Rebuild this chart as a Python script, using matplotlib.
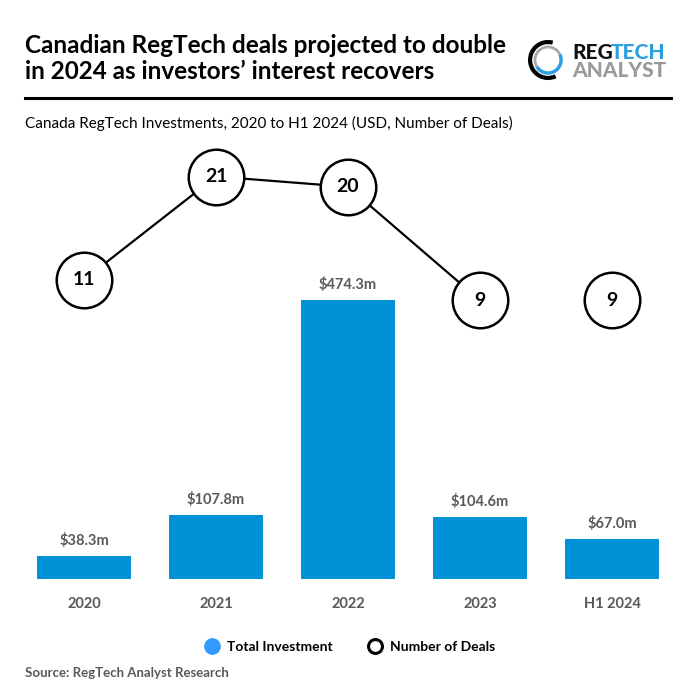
import matplotlib.pyplot as plt
from matplotlib.lines import Line2D
from matplotlib.patches import Arc

plt.rcParams['font.family'] = ['Lato', 'DejaVu Sans']

# data
years = ["2020", "2021", "2022", "2023", "H1 2024"]
investment = [38.3, 107.8, 474.3, 104.6, 67.0]
inv_labels = ["$38.3m", "$107.8m", "$474.3m", "$104.6m", "$67.0m"]
deals = [11, 21, 20, 9, 9]

bar_color = "#0091d6"
grey = "#595959"

fig = plt.figure(figsize=(6.96, 6.96), dpi=100)

# main chart area
ax = fig.add_axes([0.0259, 0.1685, 0.9483, 0.6304])
x = range(len(years))
ax.bar(x, investment, width=0.716, color=bar_color, zorder=2)
for i, (v, lab) in enumerate(zip(investment, inv_labels)):
    ax.annotate(lab, (i, v), xytext=(0, 6), textcoords="offset points",
                ha="center", va="bottom", fontsize=10.5, fontweight="bold", color=grey)
ax.set_xlim(-0.5, 4.5)
ax.set_ylim(0, 746.6)
ax.set_xticks(list(x))
ax.set_xticklabels(years, fontsize=10.5, fontweight="bold", color=grey)
ax.tick_params(axis="x", length=0, pad=13)
ax.set_yticks([])
for s in ax.spines.values():
    s.set_visible(False)

# deals on a second axis
ax2 = ax.twinx()
ax2.set_ylim(-17.97, 24.54)
ax2.plot(list(x)[:4], deals[:4], color="black", lw=1.6, zorder=3)
ax2.plot(list(x), deals, ls="none", marker="o", ms=40, mfc="white",
         mec="black", mew=1.8, zorder=4)
for i, d in enumerate(deals):
    ax2.text(i, d, str(d), ha="center", va="center", fontsize=14,
             fontweight="bold", color="black", zorder=5)
ax2.set_yticks([])
for s in ax2.spines.values():
    s.set_visible(False)

# title block
fig.text(0.036, 0.916, "Canadian RegTech deals projected to double\nin 2024 as investors\u2019 interest recovers",
         ha="left", va="center", fontsize=17.5, fontweight="bold", linespacing=1.2)
fig.add_artist(Line2D([0.036, 0.964], [0.859, 0.859], color="black", lw=2.2))
fig.text(0.036, 0.822, "Canada RegTech Investments, 2020 to H1 2024 (USD, Number of Deals)",
         ha="left", va="center", fontsize=11)

# logo
lax = fig.add_axes([0.7574, 0.8838, 0.06, 0.06])
lax.set_xlim(-1, 1)
lax.set_ylim(-1, 1)
lax.set_aspect("equal")
lax.axis("off")
lax.add_patch(Arc((0, 0), 1.72, 1.72, theta1=75, theta2=295, color="black", lw=3))
lax.add_patch(Arc((0, 0), 1.25, 1.25, theta1=210, theta2=385, color="#2d9fe0", lw=2.5))
lax.add_patch(Arc((0, 0), 1.25, 1.25, theta1=25, theta2=210, color="#a8a8a8", lw=2))
fig.text(0.822, 0.925, "REG", ha="left", va="center", fontsize=15, fontweight="black", color="#111111")
fig.text(0.878, 0.925, "TECH", ha="left", va="center", fontsize=15, fontweight="black", color="#2d9fe0")
fig.text(0.822, 0.898, "ANALYST", ha="left", va="center", fontsize=15, fontweight="black", color="#9a9a9a")

# legend
handles = [
    Line2D([], [], ls="none", marker="o", ms=11, mfc="#3399ff", mec="#3399ff"),
    Line2D([], [], ls="none", marker="o", ms=10, mfc="white", mec="black", mew=2.2),
]
fig.legend(handles, ["Total Investment", "Number of Deals"], loc="center",
           bbox_to_anchor=(0.503, 0.071), ncol=2, frameon=False,
           prop={"weight": "bold", "size": 10}, handletextpad=0.6,
           columnspacing=2.5, handlelength=1.0)

fig.text(0.036, 0.033, "Source: RegTech Analyst Research", ha="left", va="center",
         fontsize=9.5, fontweight="bold", color=grey)

fig.savefig("out.png", dpi=100, facecolor="white")
